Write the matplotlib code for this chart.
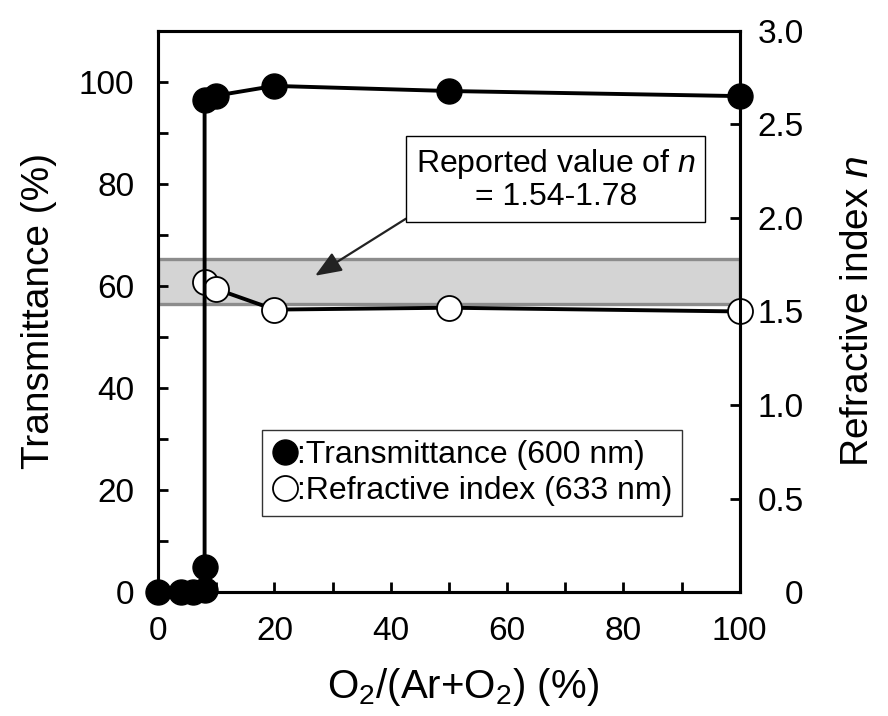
import matplotlib
matplotlib.use("Agg")
import matplotlib.pyplot as plt
from matplotlib.lines import Line2D
from matplotlib.ticker import MultipleLocator, FixedLocator, FixedFormatter

plt.rcParams['font.family'] = ['Liberation Sans', 'DejaVu Sans']
plt.rcParams['mathtext.fontset'] = 'custom'
plt.rcParams['mathtext.rm'] = 'Liberation Sans'
plt.rcParams['mathtext.it'] = 'Liberation Sans:italic'

# transmittance at 600 nm
o2_trans = [0, 4, 6, 8, 8, 8, 10, 20, 50, 100]
trans = [0, 0, 0, 0.5, 5, 96.5, 97.3, 99.2, 98.2, 97.2]

# refractive index at 633 nm
o2_n = [8, 10, 20, 50, 100]
n_val = [1.66, 1.62, 1.51, 1.52, 1.50]

# reported range of n
n_low, n_high = 1.54, 1.78

n_ticks = [0, 0.5, 1.0, 1.5, 2.0, 2.5, 3.0]
n_labels = ['0', '0.5', '1.0', '1.5', '2.0', '2.5', '3.0']

fig = plt.figure(figsize=(8.88, 7.16), dpi=100)
ax = fig.add_axes([0.178, 0.173, 0.655, 0.784])
ax2 = ax.twinx()

lw = 2.2
for a in (ax, ax2):
    for s in a.spines.values():
        s.set_linewidth(lw)

# gray band for the reported range (on the n axis)
ax2.axhspan(n_low, n_high, facecolor='#d4d4d4', edgecolor='#8c8c8c',
            linewidth=2.4, zorder=1)

ax2.plot(o2_n, n_val, color='black', lw=2.8, marker='o', ms=18,
         mfc='white', mec='black', mew=1.3, zorder=5, clip_on=False)
ax.plot(o2_trans, trans, color='black', lw=2.8, marker='o', ms=18,
        mfc='black', mec='black', zorder=6, clip_on=False)
ax.set_zorder(ax2.get_zorder() + 1)
ax.patch.set_visible(False)

ax.set_xlim(0, 100)
ax.set_ylim(0, 110)
ax2.set_ylim(0, 3.0)

ax.xaxis.set_major_locator(MultipleLocator(20))
ax.xaxis.set_minor_locator(MultipleLocator(10))
ax.yaxis.set_major_locator(FixedLocator([0, 20, 40, 60, 80, 100]))
ax.yaxis.set_minor_locator(MultipleLocator(10))
ax2.yaxis.set_major_locator(FixedLocator(n_ticks))
ax2.yaxis.set_major_formatter(FixedFormatter(n_labels))

ax.tick_params(axis='both', which='both', direction='in', length=7, width=2,
               labelsize=24, pad=17, top=False)
ax2.tick_params(axis='y', which='both', direction='in', length=7, width=2,
                labelsize=24, pad=46)
for t in ax2.get_yticklabels():
    t.set_horizontalalignment('right')

ax.set_xlabel(r'O$_2$/(Ar+O$_2$) (%)', fontsize=29, labelpad=14)
ax.xaxis.label.set_x(0.525)
ax.set_ylabel('Transmittance (%)', fontsize=28, labelpad=16)
ax2.set_ylabel(r'Refractive index $n$', fontsize=28, labelpad=26)

# annotation box with arrow into the band
ax.annotate('Reported value of $n$\n= 1.54-1.78', xy=(27, 62), xytext=(68.4, 80.8),
            fontsize=23, ha='center', va='center', linespacing=1.05,
            bbox=dict(boxstyle='square,pad=0.3', fc='white', ec='black', lw=1),
            arrowprops=dict(arrowstyle='-|>,head_length=0.7,head_width=0.28',
                            color='#222222', lw=1.6, shrinkA=0, shrinkB=0,
                            relpos=(0.0, 0.0)),
            zorder=10)

handles = [
    Line2D([], [], ls='none', marker='o', ms=18, mfc='black', mec='black'),
    Line2D([], [], ls='none', marker='o', ms=18, mfc='white', mec='black', mew=1.3),
]
leg = ax.legend(handles, [':Transmittance (600 nm)', ':Refractive index (633 nm)'],
                loc='upper left', bbox_to_anchor=(0.179, 0.288), fontsize=23,
                frameon=True, fancybox=False, handlelength=0.8, handletextpad=0.0,
                borderpad=0.3, labelspacing=0.2, borderaxespad=0)
leg.get_frame().set_edgecolor('black')
leg.get_frame().set_linewidth(1)

fig.savefig('out.png', dpi=100)
